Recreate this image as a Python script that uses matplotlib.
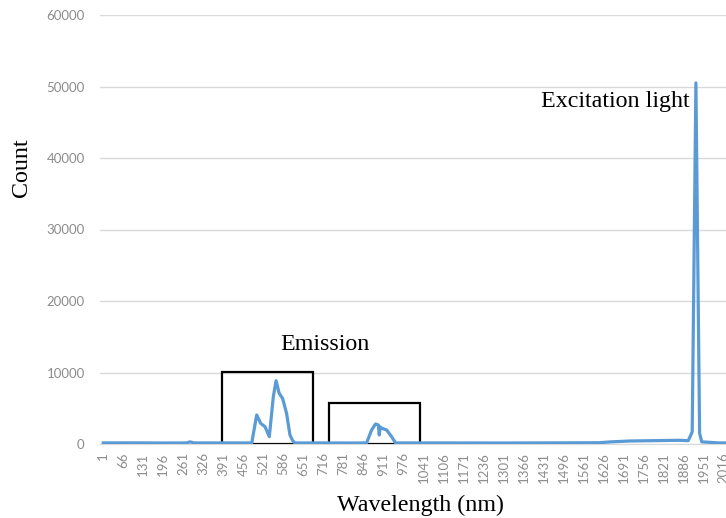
import matplotlib
matplotlib.use("Agg")
import matplotlib.pyplot as plt
from matplotlib.patches import Rectangle

# Spectrum samples: detector channel index and photon count
channel = [1, 100, 200, 270, 283, 295, 400, 483, 499, 512, 526, 540, 553, 562,
           572, 583, 596, 607, 616, 623, 700, 800, 856, 872, 885, 894, 897, 900,
           905, 921, 937, 950, 1100, 1300, 1500, 1611, 1650, 1710, 1775, 1873,
           1900, 1906, 1913, 1925, 1937, 1944, 2000, 2030]
count = [150, 160, 140, 150, 300, 150, 150, 150, 4060, 2890, 2420, 1020, 6620,
         8850, 7090, 6390, 4290, 1260, 460, 150, 150, 140, 150, 1960, 2800, 2660,
         1260, 2400, 2200, 1960, 1020, 150, 150, 140, 160, 180, 300, 420, 460,
         520, 460, 1020, 1700, 50500, 1500, 300, 150, 150]

# Category tick labels every 65 channels
tick_pos = list(range(1, 2017, 65))
tick_labels = [str(t) for t in tick_pos]
y_ticks = [0, 10000, 20000, 30000, 40000, 50000, 60000]

# Highlight boxes around the emission bands: (start, end, height)
emission_boxes = [(387, 683, 10100), (735, 1029, 5780)]

plt.rcParams['font.family'] = ['Lato', 'DejaVu Sans']

fig = plt.figure(figsize=(7.26, 5.18), dpi=100)
ax = fig.add_axes([100 / 726, 74 / 518, 626 / 726, 429 / 518])

for x0, x1, h in emission_boxes:
    ax.add_patch(Rectangle((x0, 0), x1 - x0, h, fill=False,
                           edgecolor='black', linewidth=1.6, zorder=2))

ax.plot(channel, count, color='#5b9bd5', linewidth=2.3, zorder=3,
        solid_joinstyle='round')

ax.set_xlim(-9.7, 2022.7)
ax.set_ylim(0, 60000)
ax.set_yticks(y_ticks)
ax.set_yticklabels([str(v) for v in y_ticks])
ax.set_xticks(tick_pos)
ax.set_xticklabels(tick_labels, rotation=90, va='top', ha='center')
ax.tick_params(axis='both', length=0, colors='#8c8c8c', labelsize=9.5)
ax.tick_params(axis='y', pad=11)
ax.tick_params(axis='x', pad=6)

ax.grid(axis='y', color='#d9d9d9', linewidth=1.0)
ax.set_axisbelow(True)
for s in ['top', 'right', 'left']:
    ax.spines[s].set_visible(False)
ax.spines['bottom'].set_color('#d9d9d9')

serif = ['Liberation Serif', 'DejaVu Serif']
ax.text(1662, 47970, 'Excitation light', family=serif, fontsize=17.3,
        ha='center', va='center')
ax.text(721, 13850, 'Emission', family=serif, fontsize=17.3,
        ha='center', va='center')

fig.text(22 / 726, 1 - 168 / 518, 'Count', family=serif, fontsize=17.3,
         rotation=90, ha='center', va='center')
fig.text(420 / 726, 1 - 505 / 518, 'Wavelength (nm)', family=serif,
         fontsize=17.3, ha='center', va='center')

fig.savefig('out.png', dpi=100)
